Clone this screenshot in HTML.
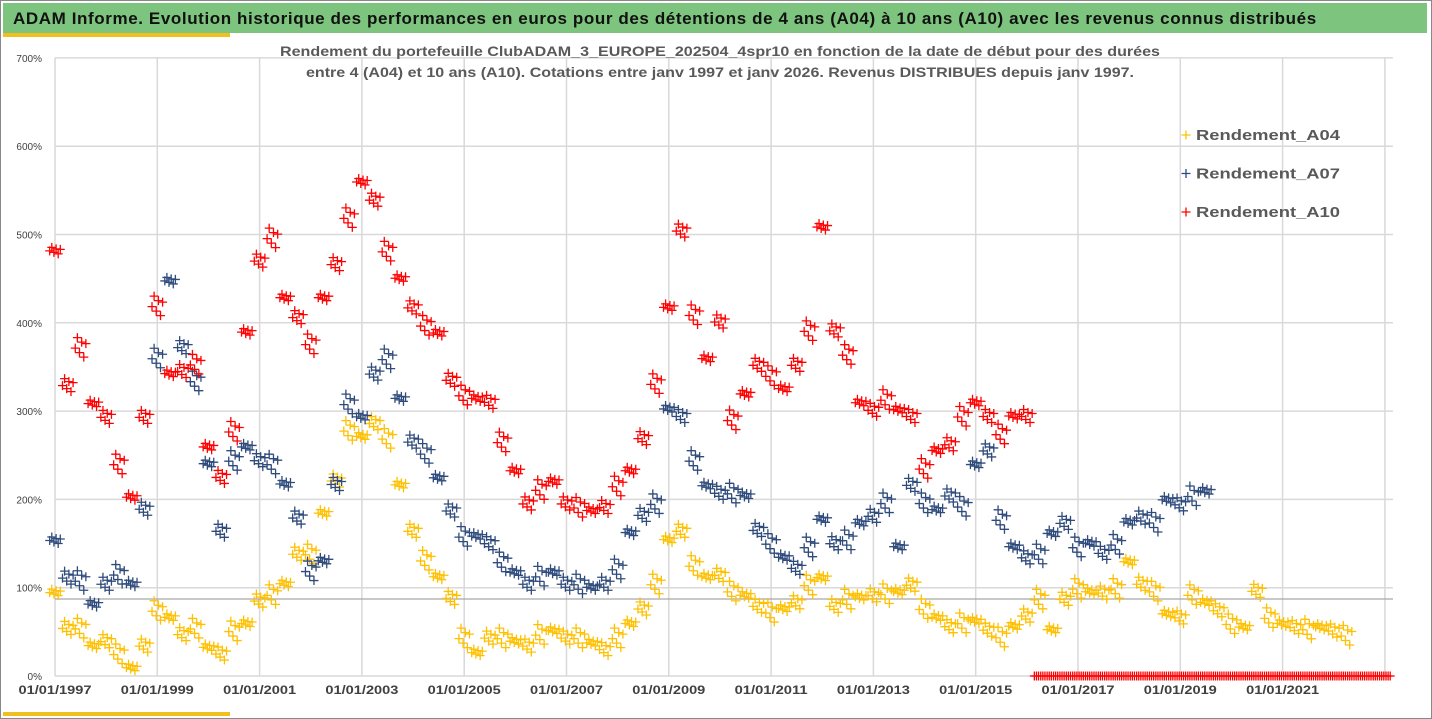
<!DOCTYPE html>
<html><head><meta charset="utf-8">
<style>
body{margin:0;width:1432px;height:719px;background:#fff;overflow:hidden;font-family:"Liberation Sans",sans-serif}
#frame{position:absolute;left:0;top:0;width:1430px;height:717px;border:1px solid #888}
#titlebar{position:absolute;left:3px;top:3px;width:1424px;height:30px;background:#7DC47E;font-weight:bold;font-size:17px;line-height:32px;padding-left:10px;box-sizing:border-box;color:#111;letter-spacing:0.6px;white-space:nowrap}
.ystrip{position:absolute;left:3px;width:227px;height:4px;background:#F0C020}
</style></head><body>
<div id="frame"></div>
<div id="titlebar">ADAM Informe. Evolution historique des performances en euros pour des détentions de 4 ans (A04) à 10 ans (A10) avec les revenus connus distribués</div>
<div class="ystrip" style="top:33px"></div>
<div class="ystrip" style="top:712px"></div>
<svg id="chart" width="1432" height="719" style="position:absolute;left:0;top:0"></svg>
<script>
const startYear = 1997;
const stepYears = 0.25;
const a04 = [95,55,55,35, 40,26,10,35, 75,67,48,55, 33,26,52,60, 86,93,105,139, 139,185,222,279, 272,287,270,217, 165,132,113,89, 44,27,44,44, 40,35,48,52, 44,44,38,31, 44,60,77,105, 155,165,126,113, 115,97,92,80, 73,77,84,104, 112,80,88,90, 92,94,96,104, 77,67,57,61, 63,53,45,57, 69,88,53,88, 100,96,95,100, 130,105,97,71, 67,93,84,75, 60,56,97,67, 60,56,54,56, 52,47];
const a07 = [154,112,109,82, 105,116,105,190, 361,448,373,335, 241,165,245,260, 245,241,218,180, 120,131,218,309, 294,343,360,315, 266,253,225,188, 159,159,151,130, 118,105,114,118, 105,105,101,105, 122,163,183,196, 303,295,245,216, 208,208,205,166, 151,135,123,147, 178,151,155,174, 182,197,147,217, 197,189,205,193, 240,256,178,147, 135,139,162,174, 147,151,140,150, 175,180,175,200, 195,205,210];
const a10 = [482,330,373,309, 294,241,203,294, 420,343,346,354, 260,226,278,390, 471,497,429,407, 377,429,467,520, 560,540,482,451, 418,398,389,336, 319,315,311,266, 233,196,212,221, 196,192,188,192, 216,233,270,332, 418,505,410,360, 402,291,320,353, 341,326,353,392, 509,392,365,310, 302,314,302,295, 236,256,263,295, 310,295,275,295, 295,0,0,0, 0,0,0,0, 0,0,0,0, 0,0,0,0, 0,0,0,0, 0,0,0,0, 0,0,0,0, 0];
const yTicks = [0,100,200,300,400,500,600,700];
const xTickYears = [1997,1999,2001,2003,2005,2007,2009,2011,2013,2015,2017,2019,2021];
const seriesNames = ["Rendement_A04","Rendement_A07","Rendement_A10"];

const NS="http://www.w3.org/2000/svg";
const svg=document.getElementById('chart');
const X0=55, PX_YEAR=51.15, Y0=676, PX_PCT=0.883;
function xs(yr){return X0+(yr-startYear)*PX_YEAR;}
function ys(v){return Y0-v*PX_PCT;}
function mk(tag,attrs,parent){const e=document.createElementNS(NS,tag);for(const k in attrs)e.setAttribute(k,attrs[k]);(parent||svg).appendChild(e);return e;}

const grid=mk('g',{});


yTicks.forEach(t=>{
  mk('line',{x1:X0,x2:1393,y1:ys(t),y2:ys(t),stroke:'#d9d9d9','stroke-width':1.5},grid);
  const lb=mk('text',{x:42,y:ys(t)+4,'text-anchor':'end','font-size':10,fill:'#404040'});
  lb.textContent=t+'%';
  
  
});
for(let yr=1997;yr<=2023;yr+=2){
  mk('line',{x1:xs(yr),x2:xs(yr),y1:ys(700),y2:Y0,stroke:'#d9d9d9','stroke-width':1.5},grid);
}
mk('line',{x1:X0,x2:1393,y1:599,y2:599,stroke:'#a6a6a6','stroke-width':1.2},grid);
xTickYears.forEach(yr=>{
  const lb=mk('text',{x:xs(yr),y:694,'text-anchor':'middle','font-size':12,'font-weight':'bold',fill:'#404040',textLength:73,lengthAdjust:'spacingAndGlyphs'});
  lb.textContent='01/01/'+yr;
  
  
});

const t1=mk('text',{x:720,y:56,'text-anchor':'middle','font-size':14,'font-weight':'bold',fill:'#595959',textLength:880,lengthAdjust:'spacingAndGlyphs'});
t1.textContent='Rendement du portefeuille ClubADAM_3_EUROPE_202504_4spr10  en fonction de la date de début pour des durées';


const t2=mk('text',{x:720,y:77,'text-anchor':'middle','font-size':14,'font-weight':'bold',fill:'#595959',textLength:828,lengthAdjust:'spacingAndGlyphs'});
t2.textContent='entre 4 (A04) et 10 ans (A10). Cotations entre janv 1997 et janv 2026. Revenus DISTRIBUES depuis janv 1997.';



function cross(g,x,y,col){
  mk('path',{d:`M${x-4.5},${y}H${x+4.5}M${x},${y-4.5}V${y+4.5}`,stroke:col,'stroke-width':1.3},g);
}
const offs=[[-5.3,1],[-3.2,-6],[-1.1,4],[1.1,-3],[3.2,7],[5.3,-2]];
function drawSeries(data,col,name){
  const g=mk('g',{});
  
  
  data.forEach((v,i)=>{
    const yr=startYear+i*stepYears;
    const x=xs(yr), y=ys(v);
    offs.forEach((o,j)=>cross(g,x+o[0],y+(v===0?0:o[1]*((i%3)+1)/2),col));
  });
}
drawSeries(a04,'#FFC000','series-a04');
drawSeries(a07,'#2F4B7C','series-a07');
drawSeries(a10,'#FF0000','series-a10');

const cols=['#FFC000','#2F4B7C','#FF0000'];
seriesNames.forEach((n,i)=>{
  const g=mk('g',{});
  
  
  const y=135+i*38.5;
  cross(g,1186,y,cols[i]);
  const tx=mk('text',{x:1196,y:y+5,'font-size':15,'font-weight':'bold',fill:'#595959',textLength:144,lengthAdjust:'spacingAndGlyphs'},g);
  tx.textContent=n;
});
</script>
</body></html>
